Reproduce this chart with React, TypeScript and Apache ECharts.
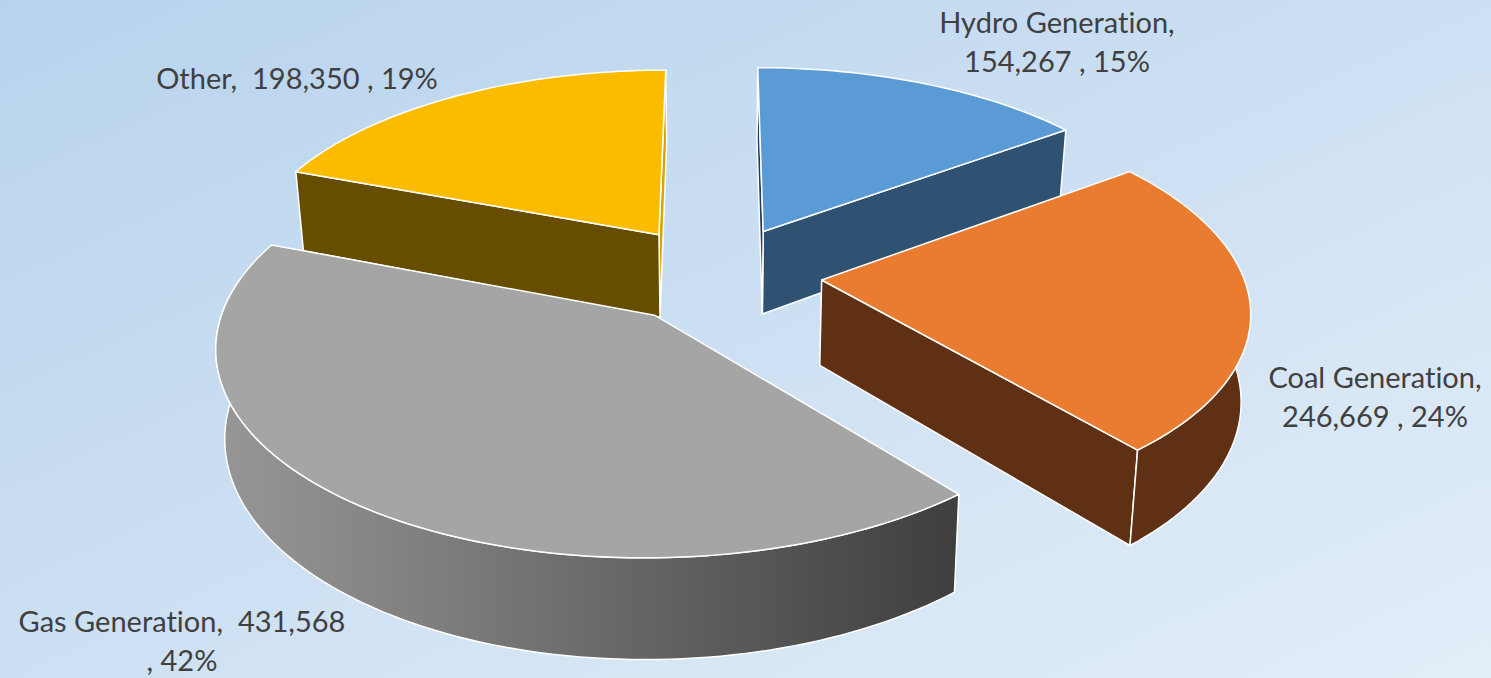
import React, { useEffect, useRef } from "react";
import * as echarts from "echarts";

const categories = ["Hydro Generation", "Coal Generation", "Gas Generation", "Other"];
const values = [154267, 246669, 431568, 198350];
const percents = ["15%", "24%", "42%", "19%"];
const drawOrder = [0, 3, 1, 2];

const topColors = ["#5B9BD5", "#E97C30", "#A5A5A5", "#FBBC00"];
const rimColors = ["#2F5272", "#5F3014", "#3F3F3F", "#664D00"];
const startFaceColors = ["#1F3C58", "#5F3014", "#3F3F3F", "#664D00"];
const endFaceColors = ["#2F5272", "#5F3014", "#3F3F3F", "#D9A300"];

const labelText = (i: number) => {
  const v = values[i].toLocaleString("en-US");
  const c = categories[i];
  if (i === 0) return `${c},\n${v} , ${percents[i]}`;
  if (i === 1) return `${c},\n${v} , ${percents[i]}`;
  if (i === 2) return `${c},  ${v}\n, ${percents[i]}`;
  return `${c},  ${v} , ${percents[i]}`;
};
const labelPos = [
  [1057, 2],
  [1375, 357],
  [182, 601],
  [297, 58],
];

const Ox = 717;
const Oy = 274;
const EXPLODE = 105;
const R = 421;
const K = 0.468;
const P = 0.000325;
const H = 85;
const SHRINK = 0.982;
const total = values.reduce((a, b) => a + b, 0);
const rad = (d: number) => (d * Math.PI) / 180;

function project(X: number, Z: number, low: boolean) {
  const w = 1 + P * Z;
  const sx = Ox + X / w;
  const sy = Oy - (K * Z) / w;
  return low ? [Ox + (sx - Ox) * SHRINK, sy + H / w] : [sx, sy];
}

function renderSlice(_: any, api: any) {
  const i = api.value(1);
  let before = 0;
  for (let j = 0; j < i; j++) before += values[j];
  const a0 = (before / total) * 360;
  const a1 = ((before + values[i]) / total) * 360;
  const mid = rad((a0 + a1) / 2);
  const ex = EXPLODE * Math.sin(mid);
  const ez = EXPLODE * Math.cos(mid);
  const rim = (t: number, low: boolean) => project(ex + R * Math.sin(rad(t)), ez + R * Math.cos(rad(t)), low);
  const apex = (low: boolean) => project(ex, ez, low);
  const arc = (from: number, to: number, low: boolean) => {
    const n = Math.max(2, Math.ceil(Math.abs(to - from) / 1.5));
    const pts = [];
    for (let s = 0; s <= n; s++) pts.push(rim(from + ((to - from) * s) / n, low));
    return pts;
  };
  const stroke = { stroke: "#FFFFFF", lineWidth: 1.5, lineJoin: "round" };
  const children: any[] = [];
  const face = (t: number, fill: string, sign: number) => {
    const q = [apex(false), rim(t, false), rim(t, true), apex(true)];
    let area = 0;
    q.forEach((p, n) => {
      const o = q[(n + 1) % 4];
      area += p[0] * o[1] - o[0] * p[1];
    });
    if (area * sign > 0) {
      children.push({ type: "polygon", shape: { points: q }, style: { fill, ...stroke } });
    }
  };
  face(a1, endFaceColors[i], 1);
  face(a0, startFaceColors[i], -1);
  const r0 = Math.max(a0, 85);
  const r1 = Math.min(a1, 280);
  if (r1 > r0) {
    const fill =
      i === 2
        ? new echarts.graphic.LinearGradient(
            214, 0, 960, 0,
            [
              { offset: 0, color: "#979797" },
              { offset: 0.3, color: "#7E7E7E" },
              { offset: 0.6, color: "#626262" },
              { offset: 1, color: "#3E3E3E" },
            ],
            true
          )
        : rimColors[i];
    children.push({
      type: "polygon",
      shape: { points: [...arc(r0, r1, false), ...arc(r1, r0, true)] },
      style: { fill, ...stroke },
    });
  }
  children.push({
    type: "polygon",
    shape: { points: [apex(false), ...arc(a0, a1, false)] },
    style: { fill: topColors[i], ...stroke },
  });
  children.push({
    type: "text",
    style: {
      text: labelText(i),
      x: labelPos[i][0],
      y: labelPos[i][1],
      fill: "#404040",
      font: '29px Lato, "Open Sans", sans-serif',
      lineHeight: 39,
      align: "center",
      verticalAlign: "top",
    },
  });
  return { type: "group", children };
}

export default function App() {
  const ref = useRef<HTMLDivElement>(null);
  useEffect(() => {
    document.body.style.margin = "0";
    const chart = echarts.init(ref.current!, undefined, { renderer: "svg" });
    chart.setOption({
      animation: false,
      backgroundColor: new echarts.graphic.LinearGradient(0, 0, 1, 1, [
        { offset: 0, color: "#B7D3EC" },
        { offset: 0.5, color: "#CDE0F3" },
        { offset: 1, color: "#E3EEF8" },
      ]),
      series: [
        {
          type: "custom",
          coordinateSystem: "none",
          silent: true,
          renderItem: renderSlice,
          data: drawOrder.map((i) => ({ name: categories[i], value: [values[i], i] })),
        },
      ],
    });
    return () => chart.dispose();
  }, []);
  return (
    <>
      <style>{"svg text { font-variant-ligatures: none !important; }"}</style>
      <div ref={ref} style={{ width: 1491, height: 678 }} />
    </>
  );
}
